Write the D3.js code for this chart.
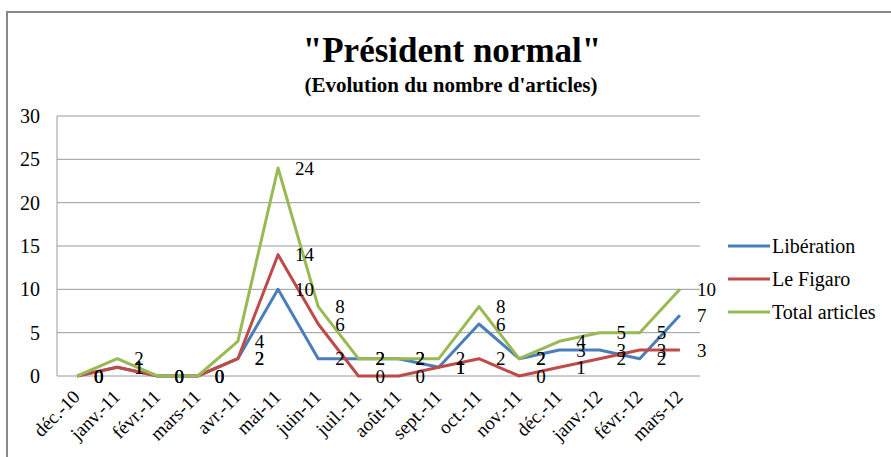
<!DOCTYPE html>
<html>
<head>
<meta charset="utf-8">
<script src="https://cdn.jsdelivr.net/npm/d3@7"></script>
<style>
  body { margin: 0; background: #fff; }
</style>
</head>
<body>
<div id="parentDiv"></div>
<script>
// data
const months = ["déc.-10", "janv.-11", "févr.-11", "mars-11", "avr.-11", "mai-11", "juin-11", "juil.-11",
  "août-11", "sept.-11", "oct.-11", "nov.-11", "déc.-11", "janv.-12", "févr.-12", "mars-12"];
const liberation = [0, 1, 0, 0, 2, 10, 2, 2, 2, 1, 6, 2, 3, 3, 2, 7];
const figaro = [0, 1, 0, 0, 2, 14, 6, 0, 0, 1, 2, 0, 1, 2, 3, 3];
const total = [0, 2, 0, 0, 4, 24, 8, 2, 2, 2, 8, 2, 4, 5, 5, 10];
const yTicks = [0, 5, 10, 15, 20, 25, 30];

const series = [
  {name: "Libération", values: liberation, color: "#4a7ebb"},
  {name: "Le Figaro", values: figaro, color: "#be4b48"},
  {name: "Total articles", values: total, color: "#98b954"}
];

const width = 891, height = 457;
const plot = {left: 57, right: 700, top: 116, bottom: 376};
const serif = "Liberation Serif";

const svg = d3.select('#parentDiv').append('svg')
  .attr('width', width)
  .attr('height', height);

// chart frame
svg.append('rect')
  .attr('x', 7).attr('y', 12)
  .attr('width', width + 20).attr('height', height + 20)
  .attr('fill', 'none')
  .attr('stroke', '#888')
  .attr('stroke-width', 2);

const x = d3.scalePoint().domain(months).range([plot.left, plot.right]).padding(0.5);
const y = d3.scaleLinear().domain([0, 30]).range([plot.bottom, plot.top]);

// gridlines
svg.append('g').selectAll('line')
  .data(yTicks)
  .join('line')
  .attr('x1', plot.left).attr('x2', plot.right)
  .attr('y1', d => y(d)).attr('y2', d => y(d))
  .attr('stroke', '#9a9a9a')
  .attr('stroke-width', 1);

svg.append('line')
  .attr('x1', plot.left).attr('x2', plot.left)
  .attr('y1', plot.top).attr('y2', plot.bottom)
  .attr('stroke', '#9a9a9a');

// y labels
svg.append('g').selectAll('text')
  .data(yTicks)
  .join('text')
  .attr('x', 40)
  .attr('y', d => y(d))
  .attr('dy', '0.35em')
  .attr('text-anchor', 'end')
  .attr('font-family', serif)
  .attr('font-size', '20px')
  .text(d => d);

// x labels, rotated
svg.append('g').selectAll('text')
  .data(months)
  .join('text')
  .attr('transform', d => `translate(${x(d) + 4},${plot.bottom + 22}) rotate(-45)`)
  .attr('text-anchor', 'end')
  .attr('font-family', serif)
  .attr('font-size', '19px')
  .text(d => d);

// lines
const line = d3.line()
  .x((d, i) => x(months[i]))
  .y(d => y(d));

series.forEach(s => {
  svg.append('path')
    .datum(s.values)
    .attr('d', line)
    .attr('fill', 'none')
    .attr('stroke', s.color)
    .attr('stroke-width', 3)
    .attr('stroke-linejoin', 'round');
});

// data labels (right of each point, overlapping like the original)
series.forEach(s => {
  svg.append('g').selectAll('text')
    .data(s.values)
    .join('text')
    .attr('x', (d, i) => x(months[i]) + 17)
    .attr('y', d => y(d))
    .attr('dy', '0.35em')
    .attr('font-family', serif)
    .attr('font-size', '19px')
    .text(d => d);
});

// title
svg.append('text')
  .attr('x', 452).attr('y', 62)
  .attr('text-anchor', 'middle')
  .attr('font-family', serif)
  .attr('font-size', '35px')
  .attr('font-weight', 'bold')
  .text('"Président normal"');

svg.append('text')
  .attr('x', 451).attr('y', 92)
  .attr('text-anchor', 'middle')
  .attr('font-family', serif)
  .attr('font-size', '21px')
  .attr('font-weight', 'bold')
  .text("(Evolution du nombre d'articles)");

// legend
const legend = svg.append('g').attr('transform', 'translate(728, 246)');
series.forEach((s, i) => {
  legend.append('line')
    .attr('x1', 0).attr('x2', 42)
    .attr('y1', i * 33).attr('y2', i * 33)
    .attr('stroke', s.color)
    .attr('stroke-width', 3);
  legend.append('text')
    .attr('x', 44)
    .attr('y', i * 33)
    .attr('dy', '0.35em')
    .attr('font-family', serif)
    .attr('font-size', '20px')
    .text(s.name);
});
</script>
</body>
</html>
